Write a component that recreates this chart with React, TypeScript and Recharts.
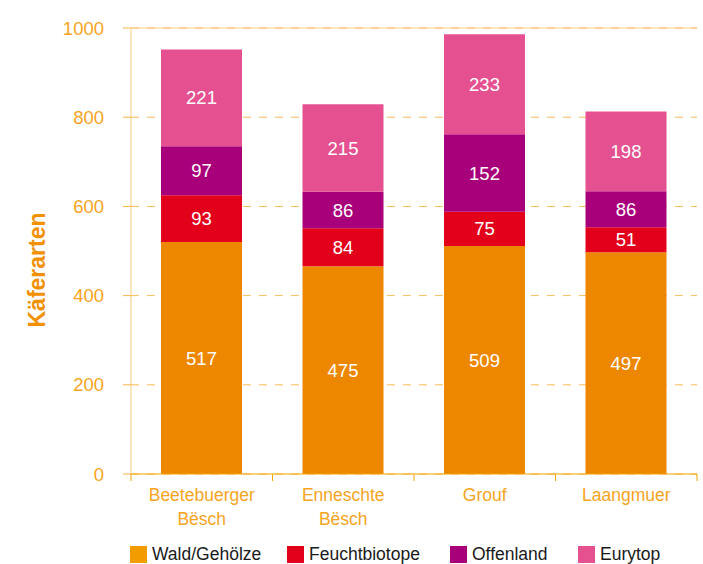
import React from 'react';
import {
  BarChart,
  Bar,
  XAxis,
  YAxis,
  CartesianGrid,
  ReferenceLine,
  LabelList,
} from 'recharts';

// Sites (x categories), line breaks as in the print
const sites = ['Beetebuerger\nBësch', 'Enneschte\nBësch', 'Grouf', 'Laangmuer'];

const waldHeights = [520, 466, 511, 497];
const feuchtHeights = [105, 85, 77, 56];
const offenHeights = [110, 82, 174, 81];
const euryHeights = [217, 196, 224, 179];

// Numbers printed inside the segments
const waldLabels = [517, 475, 509, 497];
const feuchtLabels = [93, 84, 75, 51];
const offenLabels = [97, 86, 152, 86];
const euryLabels = [221, 215, 233, 198];

const yTicks = [0, 200, 400, 600, 800, 1000];

const data = sites.map((site, i) => ({
  site,
  wald: waldHeights[i],
  feucht: feuchtHeights[i],
  offen: offenHeights[i],
  eury: euryHeights[i],
  waldLabel: waldLabels[i],
  feuchtLabel: feuchtLabels[i],
  offenLabel: offenLabels[i],
  euryLabel: euryLabels[i],
}));

const FONT = "'Liberation Sans', Arial, sans-serif";
const TICK_COLOR = '#F6A41E';
const AXIS_LIGHT = '#F9CB80';
const AXIS_DARK = '#F5A300';

const legendItems = [
  { name: 'Wald/Gehölze', color: '#F39C00', x: 130 },
  { name: 'Feuchtbiotope', color: '#E2001A', x: 287 },
  { name: 'Offenland', color: '#A8007A', x: 450 },
  { name: 'Eurytop', color: '#E5508F', x: 578 },
];

// category label plus the small tick marks at the band edges
const SiteTick = (props: any) => {
  const { x, y, payload, index, visibleTicksCount } = props;
  const half = payload && payload.offset ? payload.offset : 70.75;
  const lines = String(payload.value).split('\n');
  const last = index === (visibleTicksCount ?? sites.length) - 1;
  return (
    <g>
      <line x1={x - half} x2={x - half} y1={y} y2={y + 7} stroke={AXIS_DARK} />
      {last && <line x1={x + half} x2={x + half} y1={y} y2={y + 7} stroke={AXIS_DARK} />}
      <text x={x} y={y} textAnchor="middle" fill={TICK_COLOR} fontSize={17.5} fontFamily={FONT}>
        {lines.map((l, i) => (
          <tspan key={i} x={x} dy={i === 0 ? 27 : 24}>{l}</tspan>
        ))}
      </text>
    </g>
  );
};

const YTitle = (props: any) => {
  const { viewBox } = props;
  const cx = viewBox.x + 37;
  const cy = viewBox.y + viewBox.height / 2 + 19;
  return (
    <text
      x={cx}
      y={cy}
      transform={`rotate(-90, ${cx}, ${cy})`}
      textAnchor="middle"
      dominantBaseline="central"
      fill="#F29100"
      fontSize={23}
      fontWeight="bold"
      fontFamily={FONT}
    >
      Käferarten
    </text>
  );
};

const labelStyle = { fill: '#ffffff', fontSize: 18.5, fontFamily: FONT };

export default function App() {
  return (
    <div style={{ position: 'absolute', left: 0, top: 0, width: 703, height: 564, background: '#fff' }}>
      <BarChart
        width={703}
        height={564}
        data={data}
        margin={{ top: 28, right: 6, left: 0, bottom: 0 }}
      >
        <CartesianGrid
          vertical={false}
          stroke="#F7BC55"
          strokeDasharray="8 8"
        />
        <XAxis
          dataKey="site"
          height={90}
          tickLine={false}
          tickSize={0}
          tickMargin={0}
          axisLine={{ stroke: AXIS_DARK, strokeWidth: 1.2 }}
          tick={<SiteTick />}
          interval={0}
        />
        <YAxis
          width={131}
          domain={[0, 1000]}
          ticks={yTicks}
          tickSize={8}
          tickMargin={19}
          axisLine={{ stroke: AXIS_LIGHT }}
          tickLine={{ stroke: '#F7B448' }}
          tick={{ fill: TICK_COLOR, fontSize: 18.5, fontFamily: FONT }}
          label={<YTitle />}
        />
        <YAxis
          yAxisId="right"
          orientation="right"
          width={0}
          domain={[0, 1000]}
          tick={false}
          tickLine={false}
          axisLine={{ stroke: AXIS_LIGHT }}
        />
        <ReferenceLine y={1000} stroke={AXIS_LIGHT} />
        <Bar dataKey="wald" stackId="a" fill="#EE8700" barSize={81} isAnimationActive={false}>
          <LabelList dataKey="waldLabel" position="center" style={labelStyle} />
        </Bar>
        <Bar dataKey="feucht" stackId="a" fill="#E2001A" barSize={81} isAnimationActive={false}>
          <LabelList dataKey="feuchtLabel" position="center" style={labelStyle} />
        </Bar>
        <Bar dataKey="offen" stackId="a" fill="#A8007A" barSize={81} isAnimationActive={false}>
          <LabelList dataKey="offenLabel" position="center" style={labelStyle} />
        </Bar>
        <Bar dataKey="eury" stackId="a" fill="#E55190" barSize={81} isAnimationActive={false}>
          <LabelList dataKey="euryLabel" position="center" style={labelStyle} />
        </Bar>
      </BarChart>
      {legendItems.map((it) => (
        <div
          key={it.name}
          style={{
            position: 'absolute',
            left: it.x,
            top: 545,
            display: 'flex',
            alignItems: 'center',
            fontFamily: FONT,
            fontSize: 17.5,
            color: '#1a1a1a',
            lineHeight: '18px',
            whiteSpace: 'nowrap',
          }}
        >
          <span style={{ display: 'inline-block', width: 17, height: 17, background: it.color, marginRight: 5 }} />
          {it.name}
        </div>
      ))}
    </div>
  );
}
